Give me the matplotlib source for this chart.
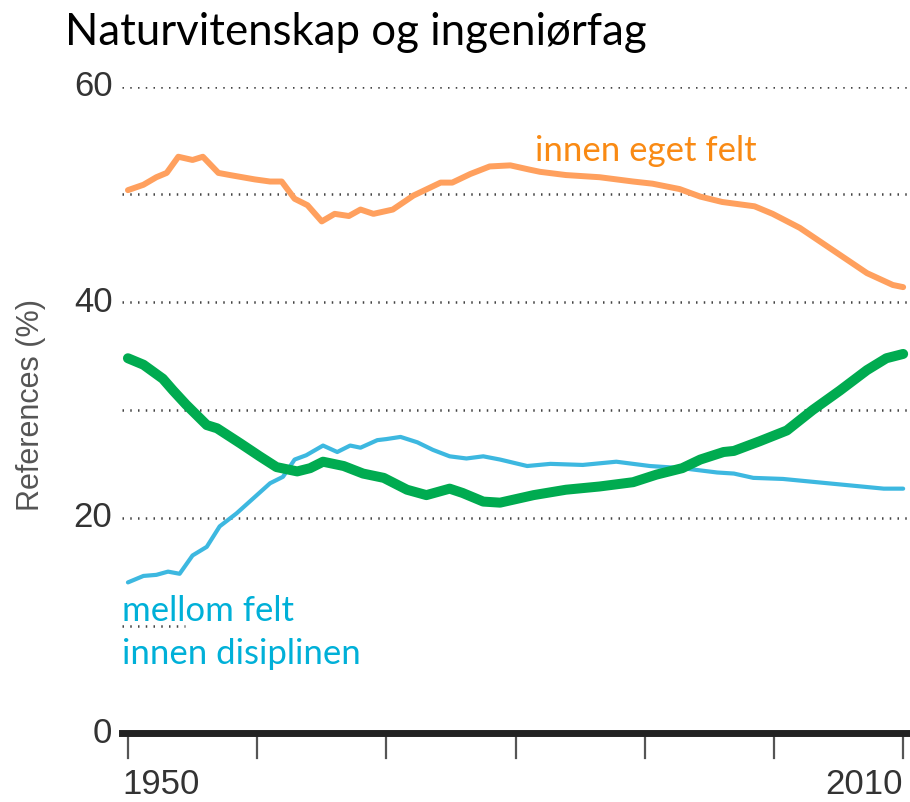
import matplotlib
matplotlib.use("Agg")
import matplotlib.pyplot as plt

# innen eget felt (orange)
own_years = [1950.0, 1951.2, 1952.2, 1953.0, 1953.9, 1955.0, 1955.8, 1957.0, 1957.9, 1959.8,
             1961.0, 1961.9, 1962.9, 1963.9, 1965.0, 1966.0, 1967.1, 1968.0, 1969.0, 1970.5,
             1972.1, 1974.2, 1975.1, 1976.5, 1978.0, 1979.6, 1981.1, 1981.9, 1983.9, 1986.5,
             1989.1, 1990.6, 1992.7, 1994.3, 1996.0, 1998.5, 1999.9, 2002.0, 2004.6, 2007.2,
             2009.2, 2010.0]
own_vals = [50.4, 50.9, 51.6, 52.0, 53.5, 53.2, 53.5, 52.0, 51.8, 51.4,
            51.2, 51.2, 49.6, 49.0, 47.5, 48.2, 48.0, 48.6, 48.2, 48.6,
            49.9, 51.1, 51.1, 51.9, 52.6, 52.7, 52.3, 52.1, 51.8, 51.6,
            51.2, 51.0, 50.5, 49.8, 49.3, 48.9, 48.2, 46.9, 44.8, 42.7,
            41.6, 41.4]

# innen disiplinen (green)
disc_years = [1950.0, 1951.2, 1952.7, 1953.5, 1954.5, 1956.1, 1956.9, 1958.7, 1960.2, 1961.5,
              1963.1, 1964.1, 1965.1, 1966.7, 1968.2, 1969.8, 1971.6, 1973.1, 1974.9, 1975.9,
              1977.5, 1978.8, 1981.4, 1983.9, 1986.5, 1989.1, 1990.9, 1992.9, 1994.3, 1996.1,
              1996.9, 1998.9, 2001.0, 2003.0, 2005.1, 2007.2, 2008.7, 2010.0]
disc_vals = [34.8, 34.2, 32.9, 31.8, 30.5, 28.6, 28.3, 26.9, 25.7, 24.7,
             24.3, 24.6, 25.2, 24.8, 24.1, 23.7, 22.6, 22.1, 22.7, 22.3,
             21.5, 21.4, 22.1, 22.6, 22.9, 23.3, 24.0, 24.6, 25.4, 26.1,
             26.2, 27.1, 28.1, 30.0, 31.8, 33.7, 34.8, 35.2]

# mellom felt (cyan)
betw_years = [1950.0, 1951.2, 1952.2, 1953.1, 1954.0, 1955.0, 1956.1, 1957.1, 1958.4, 1959.7,
              1961.0, 1962.0, 1962.9, 1963.8, 1965.1, 1966.2, 1967.2, 1968.0, 1969.3, 1970.0,
              1971.1, 1972.4, 1973.6, 1974.9, 1976.2, 1977.5, 1978.8, 1980.9, 1982.7, 1985.2,
              1987.8, 1990.4, 1992.9, 1995.6, 1996.9, 1998.4, 2000.7, 2003.3, 2005.9, 2008.5,
              2010.0]
betw_vals = [14.0, 14.6, 14.7, 15.0, 14.8, 16.5, 17.3, 19.2, 20.4, 21.8,
             23.2, 23.8, 25.4, 25.8, 26.7, 26.1, 26.7, 26.5, 27.2, 27.3,
             27.5, 27.0, 26.3, 25.7, 25.5, 25.7, 25.4, 24.8, 25.0, 24.9,
             25.2, 24.8, 24.6, 24.2, 24.1, 23.7, 23.6, 23.3, 23.0, 22.7,
             22.7]

x_ticks = [1950, 1960, 1970, 1980, 1990, 2000, 2010]
y_labels = [0, 20, 40, 60]
grid_levels = [20, 30, 40, 50, 60]

fig = plt.figure(figsize=(9.1, 8.02), dpi=100)
ax = fig.add_axes([122 / 910, 0.0857, 788 / 910, 0.8062])
ax.set_xlim(1949.54, 2010.53)
ax.set_ylim(0, 60)
ax.axis("off")

dots = dict(color="#444444", lw=1.8, linestyle=(0, (0.6, 2.5)))
for g in grid_levels:
    ax.axhline(g, **dots)
ax.hlines(10, 1949.54, 1954.4, **dots)

# base line and ticks
ax.axhline(0, color="#222222", lw=5, clip_on=False, zorder=5)
for t in x_ticks:
    ax.plot([t, t], [0, -2.3], color="#555555", lw=1.6, clip_on=False)

ax.plot(own_years, own_vals, color="#FFA05E", lw=4.3, solid_capstyle="round", solid_joinstyle="round")
ax.plot(betw_years, betw_vals, color="#3DB8E0", lw=3.0, solid_capstyle="round", solid_joinstyle="round")
ax.plot(disc_years, disc_vals, color="#00AB50", lw=7.2, solid_capstyle="round", solid_joinstyle="round")

for v in y_labels:
    ax.text(1948.8, v, str(v), ha="right", va="center", fontsize=25,
            family="Liberation Sans", color="#333333")
ax.text(1949.6, -3.2, "1950", ha="left", va="top", fontsize=25,
        family="Liberation Sans", color="#333333", clip_on=False)
ax.text(2010.0, -3.2, "2010", ha="right", va="top", fontsize=25,
        family="Liberation Sans", color="#333333", clip_on=False)

fig.text(31 / 910, 1 - 405 / 802, "References (%)", rotation=90, ha="center", va="center",
         fontsize=22, family="Liberation Sans", color="#555555")

fig.text(65 / 910, 1 - 44.6 / 802, "Naturvitenskap og ingeniørfag", ha="left", va="baseline",
         fontsize=31.5, family="Lato", color="black")

lab = dict(family="Lato", fontsize=25, ha="left", va="baseline")
fig.text(535 / 910, 1 - 161 / 802, "innen eget felt", color="#F98A14", **lab)
fig.text(122 / 910, 1 - 621 / 802, "mellom felt", color="#00B0D8", **lab)
fig.text(122 / 910, 1 - 664 / 802, "innen disiplinen", color="#00B0D8", **lab)

fig.savefig("out.png", dpi=100)
